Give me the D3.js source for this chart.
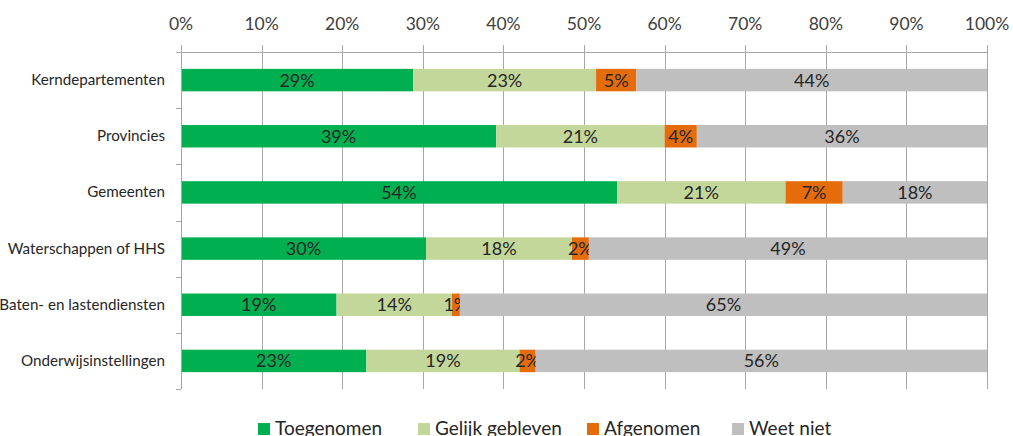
<!DOCTYPE html>
<html>
<head>
<meta charset="utf-8">
<script src="https://cdn.jsdelivr.net/npm/d3@7"></script>
<style>
    body { margin: 0; background: #fff; }
    svg { display: block; font-family: Lato, "Open Sans", sans-serif; }
</style>
</head>
<body>
<div id="chart"></div>
<script>
// data (percent of each row)
const categories = ['Kerndepartementen', 'Provincies', 'Gemeenten', 'Waterschappen of HHS',
                    'Baten- en lastendiensten', 'Onderwijsinstellingen'];
const series = ['Toegenomen', 'Gelijk gebleven', 'Afgenomen', 'Weet niet'];
const toegenomen = [28.8, 39.1, 54.1, 30.4, 19.3, 23.0];
const gelijk = [22.7, 20.9, 20.9, 18.1, 14.3, 19.0];
const afgenomen = [5.0, 4.0, 7.1, 2.1, 1.0, 2.0];
const weetNiet = [43.5, 36.0, 17.9, 49.4, 65.4, 56.0];
const ticks = [0, 10, 20, 30, 40, 50, 60, 70, 80, 90, 100];

const colors = ['#00B050', '#C4D79B', '#E46C0A', '#BFBFBF'];

window.Chart = window.Chart || {};

Chart.init = function() {
    Chart.width = 1013;
    Chart.height = 436;
    Chart.left = 181;
    Chart.right = 987;
    Chart.top = 52;
    Chart.bottom = 389;

    Chart.svg = d3.select('#chart').append('svg')
                  .attr('width', Chart.width)
                  .attr('height', Chart.height);

    Chart.x = d3.scaleLinear().domain([0, 100]).range([Chart.left, Chart.right]);
    Chart.y = d3.scaleBand().domain(categories)
                .range([Chart.top, Chart.bottom])
                .paddingInner(0.6).paddingOuter(0.3);

    Chart.drawGrid();
    Chart.drawBars();
    Chart.drawAxes();
    Chart.drawLegend();
};

Chart.drawGrid = function() {
    const g = Chart.svg.append('g');
    g.selectAll('line.grid').data(ticks).join('line')
     .attr('x1', d => Math.round(Chart.x(d)) + 0.5).attr('x2', d => Math.round(Chart.x(d)) + 0.5)
     .attr('y1', Chart.top - 7).attr('y2', Chart.bottom)
     .attr('stroke', '#a6a6a6').attr('stroke-width', 1);

    g.selectAll('text').data(ticks).join('text')
     .attr('x', d => Chart.x(d))
     .attr('y', 30)
     .attr('text-anchor', 'middle')
     .attr('fill', '#404040')
     .attr('font-size', 17.5)
     .text(d => d + '%');
};

Chart.drawBars = function() {
    const values = [toegenomen, gelijk, afgenomen, weetNiet];
    const rows = categories.map((c, i) => {
        const row = { cat: c };
        series.forEach((s, k) => row[s] = values[k][i]);
        return row;
    });
    const stacked = d3.stack().keys(series)(rows);

    const layers = Chart.svg.append('g').selectAll('g').data(stacked).join('g')
                        .attr('fill', (d, k) => colors[k]);

    layers.selectAll('rect').data(d => d).join('rect')
          .attr('x', d => Chart.x(d[0]))
          .attr('width', d => Chart.x(d[1]) - Chart.x(d[0]))
          .attr('y', d => Chart.y(d.data.cat))
          .attr('height', Chart.y.bandwidth());

    layers.selectAll('text').data(d => d).join('text')
          .attr('x', d => (Chart.x(d[0]) + Chart.x(d[1])) / 2)
          .attr('y', d => Chart.y(d.data.cat) + Chart.y.bandwidth() / 2 + 6.5)
          .attr('text-anchor', 'middle')
          .attr('fill', '#262626')
          .attr('font-size', 18)
          .text(d => Math.round(d[1] - d[0]) + '%');
};

Chart.drawAxes = function() {
    const g = Chart.svg.append('g');
    // top horizontal line and left axis
    g.append('line')
     .attr('x1', Chart.left - 5).attr('x2', Chart.right)
     .attr('y1', Chart.top + 0.5).attr('y2', Chart.top + 0.5)
     .attr('stroke', '#a6a6a6');
    g.append('line')
     .attr('x1', Chart.left + 0.5).attr('x2', Chart.left + 0.5)
     .attr('y1', Chart.top).attr('y2', Chart.bottom)
     .attr('stroke', '#a6a6a6');

    const edges = categories.map(c => Chart.y(c) - Chart.y.step() * 0.3).concat([Chart.bottom]);
    g.selectAll('line.tick').data(edges).join('line')
     .attr('class', 'tick')
     .attr('x1', Chart.left - 5).attr('x2', Chart.left)
     .attr('y1', d => Math.round(d) + 0.5).attr('y2', d => Math.round(d) + 0.5)
     .attr('stroke', '#a6a6a6');

    g.selectAll('text').data(categories).join('text')
     .attr('x', 165)
     .attr('y', d => Chart.y(d) + Chart.y.bandwidth() / 2 + 5)
     .attr('text-anchor', 'end')
     .attr('fill', '#262626')
     .attr('font-size', 15.2)
     .text(d => d);
};

Chart.drawLegend = function() {
    const xs = [258, 418, 587, 732];
    const g = Chart.svg.append('g').selectAll('g').data(series).join('g')
                   .attr('transform', (d, k) => 'translate(' + xs[k] + ',423)');
    g.append('rect').attr('width', 12).attr('height', 12)
     .attr('fill', (d, k) => colors[k]);
    g.append('text').attr('x', 17).attr('y', 12)
     .attr('fill', '#262626')
     .attr('font-size', 19)
     .text(d => d);
};

document.addEventListener('DOMContentLoaded', Chart.init);
</script>
</body>
</html>
